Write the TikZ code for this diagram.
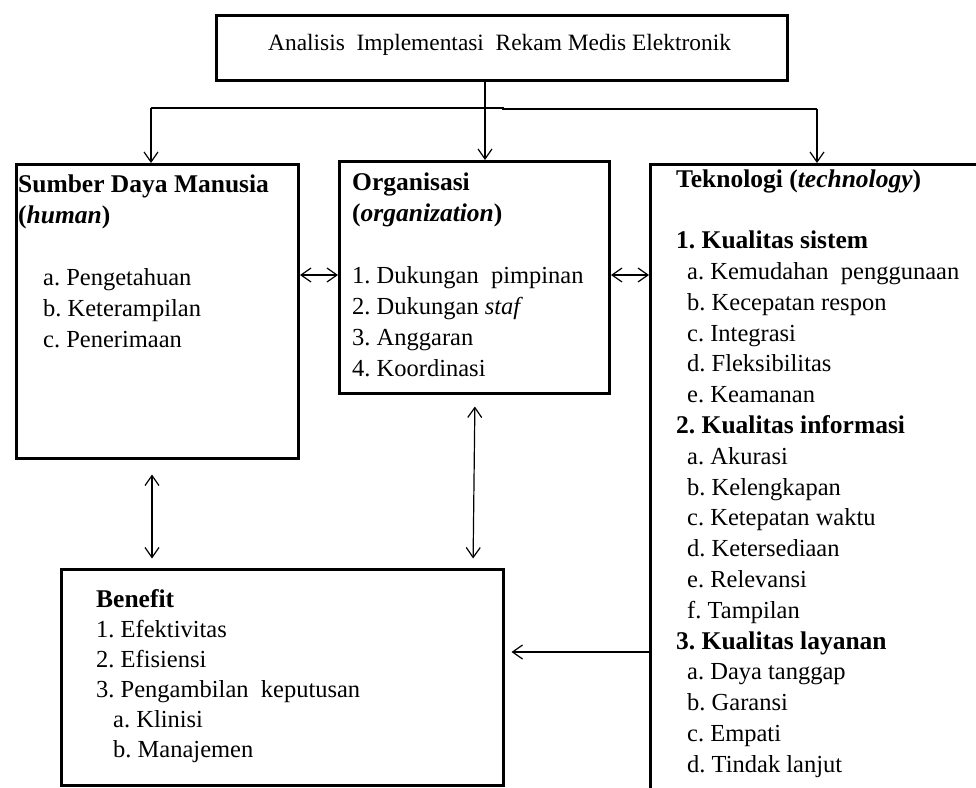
\documentclass[tikz,border=0pt]{standalone}
\usepackage{fontspec}
\setmainfont{Liberation Serif}
\usetikzlibrary{arrows.meta}
\newcommand{\hd}[1]{\hbox{\fontsize{25.5pt}{31pt}\selectfont\bfseries #1}}
\begin{document}
\begin{tikzpicture}[x=1pt,y=-1pt,
  box/.style={draw, line width=3pt, rectangle, inner sep=0pt, anchor=north west},
  txt/.style={anchor=base west, inner sep=0pt, font=\fontsize{24.5pt}{31pt}\selectfont\frenchspacing},
  tip/.tip={Straight Barb[length=10pt,width=14pt]},
  plain/.style={line width=1.2pt},
  conn/.style={line width=1.2pt, -tip},
  dconn/.style={line width=1.2pt, tip-tip}]
\useasboundingbox (0,0) rectangle (976,787);
\fill[white] (0,0) rectangle (976,787);
\clip (0,0) rectangle (976,787);
% boxes
\node[box, minimum width=571pt, minimum height=65pt] (top) at (215,14) {};
\node[box, minimum width=282pt, minimum height=294pt] (sdm) at (15,163) {};
\node[box, minimum width=270pt, minimum height=232pt] (org) at (338,160) {};
\node[box, minimum width=400pt, minimum height=700pt] (tek) at (649,163) {};
\node[box, minimum width=442pt, minimum height=216pt] (ben) at (60,568) {};
% texts
\node[txt, font=\fontsize{23.4pt}{31pt}\selectfont] (ttl) at (268,50) {Analisis\ \ Implementasi\ \ Rekam Medis Elektronik};
\node[txt] (sdmt) at (18,192) {\vtop{\baselineskip=31pt
  \hd{Sumber Daya Manusia}
  \hd{(\textit{human})}
  \hbox{}
  \hbox{\kern25pt a. Pengetahuan}
  \hbox{\kern25pt b. Keterampilan}
  \hbox{\kern25pt c. Penerimaan}}};
\node[txt] (orgt) at (352,190) {\vtop{\baselineskip=31pt
  \hd{Organisasi}
  \hd{(\textit{organization})}
  \hbox{}
  \hbox{1. Dukungan\ \ pimpinan}
  \hbox{2. Dukungan \textit{staf}}
  \hbox{3. Anggaran}
  \hbox{4. Koordinasi}}};
\node[txt] (tekt) at (676,187) {\vtop{\baselineskip=30.8pt
  \hd{Teknologi (\textit{technology})}
  \hbox{}
  \hd{1. Kualitas sistem}
  \hbox{\kern11pt a. Kemudahan\ \ penggunaan}
  \hbox{\kern11pt b. Kecepatan respon}
  \hbox{\kern11pt c. Integrasi}
  \hbox{\kern11pt d. Fleksibilitas}
  \hbox{\kern11pt e. Keamanan}
  \hd{2. Kualitas informasi}
  \hbox{\kern11pt a. Akurasi}
  \hbox{\kern11pt b. Kelengkapan}
  \hbox{\kern11pt c. Ketepatan waktu}
  \hbox{\kern11pt d. Ketersediaan}
  \hbox{\kern11pt e. Relevansi}
  \hbox{\kern11pt f. Tampilan}
  \hd{3. Kualitas layanan}
  \hbox{\kern11pt a. Daya tanggap}
  \hbox{\kern11pt b. Garansi}
  \hbox{\kern11pt c. Empati}
  \hbox{\kern11pt d. Tindak lanjut}}};
\node[txt] (bent) at (96,607) {\vtop{\baselineskip=30pt
  \hd{Benefit}
  \hbox{1. Efektivitas}
  \hbox{2. Efisiensi}
  \hbox{3. Pengambilan\ \ keputusan}
  \hbox{\kern17pt a. Klinisi}
  \hbox{\kern17pt b. Manajemen}}};
% connectors
\coordinate (j) at (485,108);
\coordinate (jl) at (151,108);
\coordinate (jr) at (817,109);
\draw[plain] (top.south -| j) -- (j);
\draw[plain] (jl) -- (503,108) -- (503,109) -- (jr);
\draw[conn] (jl) -- (jl |- sdm.north);
\draw[conn] (j) -- (j |- org.north);
\draw[conn] (jr) -- (jr |- tek.north);
\draw[dconn] (sdm.east |- 0,275) -- (org.west |- 0,275);
\draw[dconn] (org.east |- 0,275) -- (tek.west |- 0,275);
\draw[dconn, shorten <=14.5pt, shorten >=9.5pt] (sdm.south -| 152,0) -- (ben.north -| 152,0);
\draw[dconn, shorten <=11.5pt, shorten >=9.5pt] (org.south -| 475,0) -- (ben.north -| 473,0);
\draw[conn, shorten >=6.5pt] (tek.west |- 0,652) -- (ben.east |- 0,652);
\end{tikzpicture}
\end{document}
